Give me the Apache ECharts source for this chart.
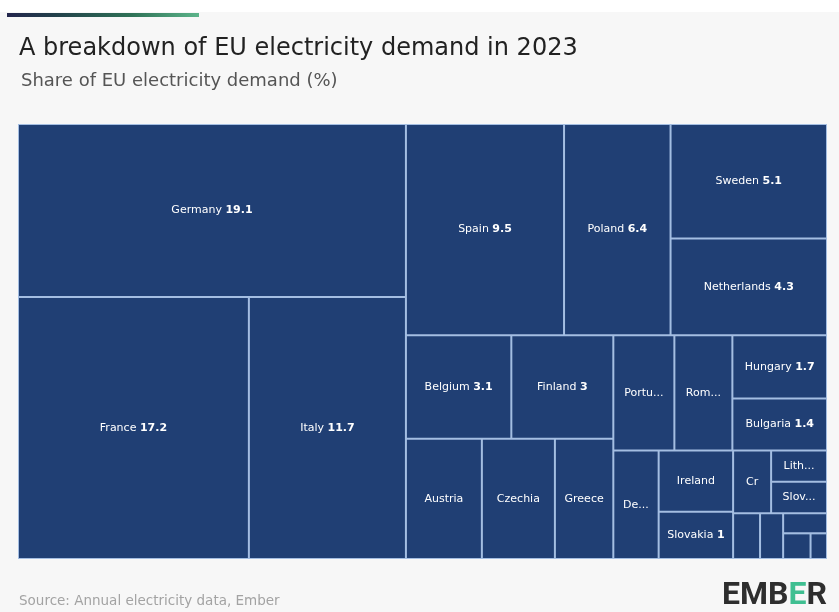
<!DOCTYPE html>
<html>
<head>
<meta charset="utf-8">
<script src="https://cdn.jsdelivr.net/npm/echarts@6/dist/echarts.min.js"></script>
<style>
html,body{margin:0;padding:0;background:#f7f7f7;}
#chart{width:839px;height:612px;}
</style>
</head>
<body>
<div id="chart"></div>
<script>
// ---- data ----
const countries = ['Germany','France','Italy','Spain','Poland','Sweden','Netherlands','Belgium','Finland','Austria','Czechia','Greece','Portugal','Romania','Hungary','Bulgaria','Denmark','Ireland','Slovakia','Croatia','Lithuania','Slovenia','Estonia','Latvia','Luxembourg','Cyprus','Malta'];
const shares = [19.1,17.2,11.7,9.5,6.4,5.1,4.3,3.1,3.0,2.6,2.5,2.0,2.0,1.9,1.7,1.4,1.4,1.3,1.0,0.68,0.5,0.5,0.35,0.3,0.25,0.2,0.12];
const nameOnly = ['Austria','Czechia','Greece','Portugal','Romania','Denmark','Ireland','Croatia','Lithuania','Slovenia','Estonia','Latvia','Luxembourg','Cyprus','Malta'];
const titleText = 'A breakdown of EU electricity demand in 2023';
const subtitleText = 'Share of EU electricity demand (%)';
const sourceText = 'Source: Annual electricity data, Ember';

const CELL = '#203f74';
const LINE = '#a4bee2';
const FONT = 'DejaVu Sans';

// binary partition of the sorted list into a nested hierarchy
function buildBinary(items, labelFor) {
  const sums = [0];
  items.forEach(d => sums.push(sums[sums.length - 1] + d.value));
  function part(i, j) {
    if (j - i === 1) {
      const d = items[i];
      const leaf = { name: d.name, value: d.value,
        itemStyle: { color: CELL, borderWidth: 1, borderColor: LINE } };
      const lab = labelFor ? labelFor(d.name) : null;
      if (lab) leaf.label = lab;
      return leaf;
    }
    const value = sums[j] - sums[i];
    const target = value / 2 + sums[i];
    let k = i + 1, hi = j - 1;
    while (k < hi) { const mid = (k + hi) >>> 1; if (sums[mid] < target) k = mid + 1; else hi = mid; }
    if ((target - sums[k - 1]) < (sums[k] - target) && i + 1 < k) --k;
    return { name: '', children: [part(i, k), part(k, j)],
      itemStyle: { borderWidth: 0, gapWidth: 0, borderColor: LINE, color: CELL } };
  }
  return part(0, items.length);
}

const items = countries.map((c, i) => ({ name: c, value: shares[i] }));

const chart = echarts.init(document.getElementById('chart'), null, { renderer: 'canvas' });

function makeOption(data) {
  return {
    backgroundColor: '#f7f7f7',
    animation: false,
    title: [
      { text: titleText, left: 14, top: 32,
        textStyle: { fontFamily: FONT, fontSize: 24, fontWeight: 'normal', color: '#222' } },
      { text: subtitleText, left: 16, top: 67,
        textStyle: { fontFamily: FONT, fontSize: 18, fontWeight: 'normal', color: '#555' } },
      { text: sourceText, left: 14, top: 589,
        textStyle: { fontFamily: FONT, fontSize: 13.5, fontWeight: 'normal', color: '#a3a3a3' } }
    ],
    graphic: [
      { type: 'rect', left: 0, top: 0, shape: { width: 839, height: 12 }, style: { fill: '#ffffff' }, silent: true },
      { type: 'rect', left: 7, top: 13, shape: { width: 192, height: 4 },
        style: { fill: new echarts.graphic.LinearGradient(0, 0, 1, 0, [
          { offset: 0, color: '#23264d' }, { offset: 0.25, color: '#22404a' },
          { offset: 0.65, color: '#2f7257' }, { offset: 1, color: '#5cb48a' }]) }, silent: true },
      { type: 'text', right: 12, top: 580,
        style: { text: '{a|EMB}{e|E}{a|R}',
          rich: {
            a: { fontFamily: 'Roboto', fontSize: 32, fontWeight: 'bold', fill: '#2e2e2e' },
            e: { fontFamily: 'Roboto', fontSize: 32, fontWeight: 'bold', fill: '#3fbf91' }
          } }, silent: true }
    ],
    series: [{
      type: 'treemap',
      left: 18, top: 124, width: 809, height: 435,
      sort: false,
      squareRatio: 1e-9,
      roam: false,
      nodeClick: false,
      breadcrumb: { show: false },
      visibleMin: 0,
      itemStyle: { borderWidth: 0, gapWidth: 0, borderColor: LINE, color: CELL },
      label: {
        show: true,
        position: 'inside',
        padding: [0, 6],
        color: '#ffffff',
        fontFamily: FONT,
        fontSize: 11,
        overflow: 'truncate',
        ellipsis: '...',
        formatter: function (p) {
          if (nameOnly.indexOf(p.name) >= 0) return '{n|' + p.name + '}';
          return '{n|' + p.name + '} {v|' + p.value + '}';
        },
        rich: {
          n: { fontFamily: FONT, fontSize: 11, color: '#ffffff' },
          v: { fontFamily: FONT, fontSize: 11, fontWeight: 'bold', color: '#ffffff' }
        }
      },
      upperLabel: { show: false },
      emphasis: { disabled: true },
      data: data
    }]
  };
}

// first pass: let ECharts lay out the treemap
chart.setOption(makeOption(buildBinary(items).children));

// second pass: read each leaf's laid-out size to centre / hide its label
const cellSizes = {};
try {
  const tree = chart.getModel().getSeriesByIndex(0).getData().tree;
  tree.root.eachNode(function (node) {
    if (!node.children || !node.children.length) {
      const lay = node.getLayout();
      if (lay && node.name) cellSizes[node.name] = { w: lay.width, h: lay.height };
    }
  });
} catch (e) {}
chart.setOption(makeOption(buildBinary(items, function (name) {
  const s = cellSizes[name];
  if (!s) return null;
  if (s.w < 34 || s.h < 24) return { show: false };
  const lh = Math.max(s.h - 2, 1);
  const pad = nameOnly.indexOf(name) >= 0 ? [0, 8] : [0, 6];
  return { padding: pad, lineHeight: lh, rich: {
    n: { fontFamily: FONT, fontSize: 11, color: '#ffffff', lineHeight: lh },
    v: { fontFamily: FONT, fontSize: 11, fontWeight: 'bold', color: '#ffffff', lineHeight: lh } } };
}).children), { notMerge: true });
</script>
</body>
</html>
